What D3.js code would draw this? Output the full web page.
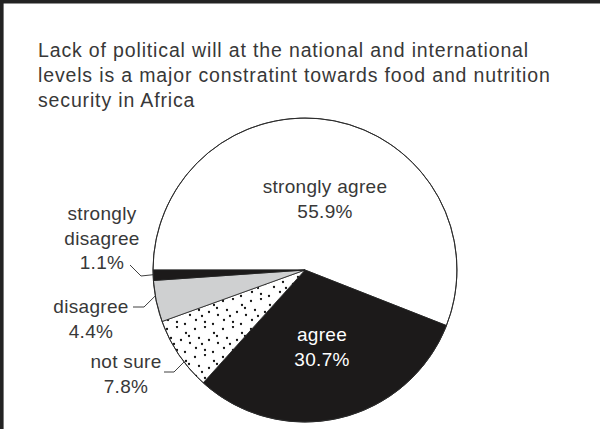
<!DOCTYPE html>
<html>
<head>
<meta charset="utf-8">
<script src="https://cdn.jsdelivr.net/npm/d3@7"></script>
<style>
  html, body { margin: 0; padding: 0; background: #fff; }
  svg { display: block; }
  text { font-family: "Liberation Sans", Arial, sans-serif; }
</style>
</head>
<body>
<svg id="chart" width="600" height="429"></svg>
<script>
// ---- data ----
const categories = ["strongly agree", "agree", "not sure", "disagree", "strongly disagree"];
const values = [55.9, 30.7, 7.8, 4.4, 1.1];
const valueLabels = ["55.9%", "30.7%", "7.8%", "4.4%", "1.1%"];
const titleLines = [
  "Lack of political will at the national and international",
  "levels is a major constratint towards food and nutrition",
  "security in Africa"
];

// ---- styles / layout ----
const fills = ["#ffffff", "#1c1a1a", "url(#dots)", "#cfd0d1", "#1c1a1a"];
const cx = 305, cy = 270, R = 152;
const textColor = "#383838";

const svg = d3.select("#chart");

// dotted pattern
const defs = svg.append("defs");
const pat = defs.append("pattern")
  .attr("id", "dots").attr("patternUnits", "userSpaceOnUse")
  .attr("width", 28).attr("height", 28);
pat.append("rect").attr("width", 28).attr("height", 28).attr("fill", "#fff");
[[2,3],[12,1],[21,7],[6,12],[16,14],[25,17],[3,22],[12,24],[20,26],[9,18],[24,10]]
  .forEach(([x,y]) => pat.append("circle").attr("cx", x).attr("cy", y).attr("r", 1.15).attr("fill", "#111"));

// frame (top & left edges)
svg.append("line").attr("x1", 0).attr("x2", 600).attr("y1", 1.8).attr("y2", 1.8)
  .attr("stroke", "#232323").attr("stroke-width", 3.6);
svg.append("line").attr("x1", 1.8).attr("x2", 1.8).attr("y1", 0).attr("y2", 429)
  .attr("stroke", "#232323").attr("stroke-width", 3.6);

// title
svg.append("g").selectAll("text").data(titleLines).join("text")
  .attr("x", 38).attr("y", (d, i) => 57 + i * 25)
  .attr("font-size", 19.5).attr("letter-spacing", 0.85).attr("fill", textColor)
  .text(d => d);

// pie
const data = categories.map((c, i) => ({ cat: c, value: values[i], label: valueLabels[i], fill: fills[i] }));
const pie = d3.pie().value(d => d.value).sort(null)
  .startAngle(-Math.PI / 2).endAngle(1.5 * Math.PI);
const arcs = pie(data);
const arc = d3.arc().innerRadius(0).outerRadius(R);

const g = svg.append("g").attr("transform", `translate(${cx},${cy})`);
g.selectAll("path").data(arcs).join("path")
  .attr("d", arc)
  .attr("fill", d => d.data.fill)
  .attr("stroke", "#222")
  .attr("stroke-width", 0.8)
  .attr("stroke-linejoin", "round");
g.append("circle").attr("r", R).attr("fill", "none").attr("stroke", "#2a2a2a").attr("stroke-width", 1);

// labels (layout per category)
const labelLayout = {
  "strongly agree":    { x: 325, y: 193, lines: ["strongly agree"], color: textColor },
  "agree":             { x: 322, y: 341, lines: ["agree"], color: "#ffffff" },
  "not sure":          { x: 126, y: 368, lines: ["not sure"], color: textColor,
                         leader: { frac: 0.38, knee: [174, 372], start: [164, 372] } },
  "disagree":          { x: 91, y: 313, lines: ["disagree"], color: textColor,
                         leader: { frac: 0.63, knee: [144, 307], start: [133, 307] } },
  "strongly disagree": { x: 102, y: 220, lines: ["strongly", "disagree"], color: textColor,
                         leader: { frac: 0.55, knee: [141, 276], start: [130, 265] } }
};

arcs.forEach(a => {
  const L = labelLayout[a.data.cat];
  const t = svg.append("text").attr("text-anchor", "middle")
    .attr("font-size", 19).attr("letter-spacing", 0.3).attr("fill", L.color);
  const all = L.lines.concat([a.data.label]);
  all.forEach((s, i) => {
    t.append("tspan").attr("x", L.x).attr("y", L.y + i * 24.5).text(s);
  });
  if (L.leader) {
    const ang = a.startAngle + L.leader.frac * (a.endAngle - a.startAngle);
    const ex = cx + R * Math.sin(ang), ey = cy - R * Math.cos(ang);
    svg.append("polyline")
      .attr("points", [L.leader.start, L.leader.knee, [ex, ey]].map(p => p.join(",")).join(" "))
      .attr("fill", "none").attr("stroke", "#2a2a2a").attr("stroke-width", 0.9);
  }
});
</script>
</body>
</html>
